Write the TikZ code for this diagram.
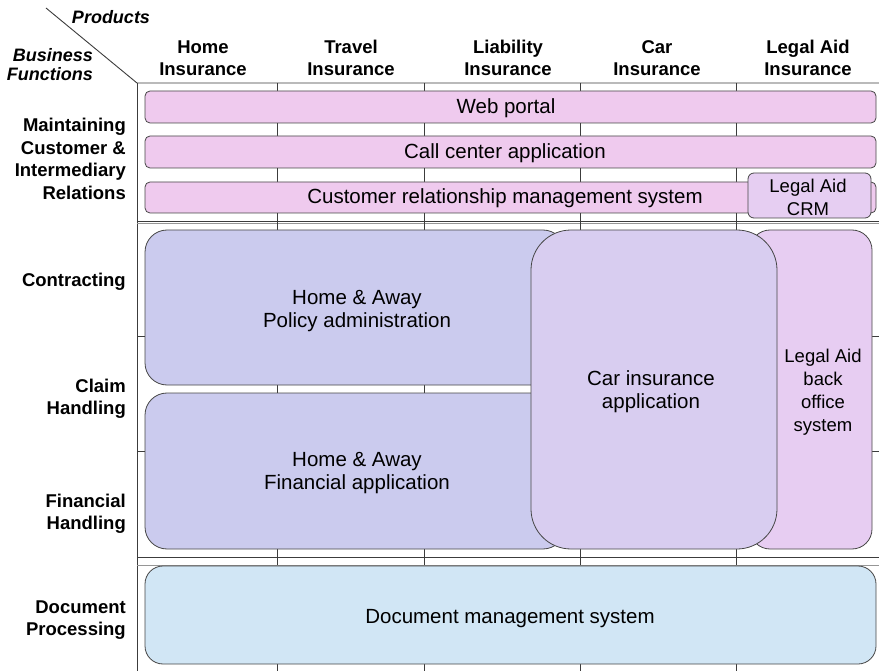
\documentclass[tikz,border=0pt]{standalone}
\usepackage{fontspec}
\setmainfont{Liberation Sans}
\definecolor{gridc}{RGB}{60,60,60}
\definecolor{gridl}{RGB}{150,150,150}
\definecolor{border}{RGB}{70,70,70}
\definecolor{pinkc}{RGB}{239,202,238}
\definecolor{lacrmc}{RGB}{230,206,242}
\definecolor{hac}{RGB}{203,203,238}
\definecolor{carc}{RGB}{216,205,240}
\definecolor{labc}{RGB}{231,205,242}
\definecolor{docc}{RGB}{209,230,245}
\begin{document}
\begin{tikzpicture}[x=1pt,y=-1pt,
  gridline/.style={draw=gridc, line width=0.9pt},
  gridlight/.style={draw=gridl, line width=0.9pt},
  tickline/.style={draw=gridc, line width=0.8pt},
  box/.style={draw=border, line width=0.8pt, inner sep=0pt, anchor=center},
  bar/.style={box, fill=pinkc, rounded corners=5pt},
  hdr/.style={font=\fontsize{18.5}{22}\selectfont\bfseries, align=center, inner sep=0pt},
  corner/.style={font=\fontsize{18}{19}\selectfont\bfseries\itshape, align=right, inner sep=0pt},
  rowlab/.style={font=\fontsize{18.5}{22.5}\selectfont\bfseries, align=right, anchor=east, inner sep=0pt},
  bigtxt/.style={font=\fontsize{20.5}{23}\selectfont, align=center, inner sep=0pt},
  smalltxt/.style={font=\fontsize{18.5}{23}\selectfont, align=center, inner sep=0pt},
]
\useasboundingbox (0,0) rectangle (879,671);

% ---- grid ----
\coordinate (dg) at (46,8);
\coordinate (gtl) at (137,83);
\coordinate (gtr) at (879,83);
\coordinate (gbl) at (137,671);
\draw[gridline] (dg) -- (gtl) -- (gtr);
\draw[gridline] (gtl) -- (gbl);
\draw[gridline] (137,221.5) -- (879,221.5);
\draw[gridlight] (137,223.5) -- (879,223.5);
\draw[gridline] (137,557) -- (879,557);
\draw[gridlight] (137,565) -- (879,565);
\draw[tickline] (137,336) -- (145,336);
\draw[tickline] (137,451) -- (145,451);
\draw[tickline] (872,336) -- (879,336);
\draw[tickline] (872,451) -- (879,451);
\foreach \x in {277,424,580,736}{
  \draw[tickline] (\x,83) -- (\x,91);
  \draw[tickline] (\x,123) -- (\x,136);
  \draw[tickline] (\x,168) -- (\x,182);
  \draw[tickline] (\x,213) -- (\x,230);
  \draw[tickline] (\x,549) -- (\x,565);
  \draw[tickline] (\x,664) -- (\x,671);
}
\foreach \x in {277,424}{
  \draw[tickline] (\x,385) -- (\x,393);
}

% ---- corner labels ----
\node[corner, anchor=center] (prod) at (111,17) {Products};
\node[corner, anchor=east] (bf) at (93,65) {Business\\Functions};

% ---- column headers ----
\node[hdr] (h1) at (203,58) {Home\\Insurance};
\node[hdr] (h2) at (351,58) {Travel\\Insurance};
\node[hdr] (h3) at (508,58) {Liability\\Insurance};
\node[hdr] (h4) at (657,58) {Car\\Insurance};
\node[hdr] (h5) at (808,58) {Legal Aid\\Insurance};

% ---- row labels ----
\node[rowlab] (r1) at (126,159) {Maintaining\\Customer \&\\Intermediary\\Relations};
\node[rowlab] (r2) at (126,282) {Contracting};
\node[rowlab] (r3) at (126,399) {Claim\\Handling};
\node[rowlab] (r4) at (126,514) {Financial\\Handling};
\node[rowlab] (r5) at (126,620) {Document\\Processing};

% ---- application boxes ----
\node[bar, minimum width=731pt, minimum height=32pt] (web) at (510.5,107) {};
\node[bigtxt] (webt) at (506,108) {Web portal};
\node[bar, minimum width=731pt, minimum height=32pt] (call) at (510.5,152) {};
\node[bigtxt] (callt) at (505,153) {Call center application};
\node[bar, minimum width=731pt, minimum height=31pt] (crm) at (510.5,197.5) {};
\node[bigtxt] (crmt) at (505,198.5) {Customer relationship management system};
\node[box, fill=lacrmc, rounded corners=6pt, minimum width=123pt, minimum height=45pt] (lacrm) at (809.5,195.5) {};
\node[smalltxt] (lacrmt) at (808,197) {Legal Aid\\CRM};

\node[box, fill=labc, rounded corners=20pt, minimum width=122pt, minimum height=319pt] (lab) at (811,389.5) {};
\node[smalltxt] (labt) at (823,392) {Legal Aid\\back\\office\\system};
\node[box, fill=hac, rounded corners=22pt, minimum width=420pt, minimum height=155pt] (hapol) at (355,307.5) {};
\node[bigtxt] (hapolt) at (357,311) {Home \& Away\\Policy administration};
\node[box, fill=hac, rounded corners=22pt, minimum width=420pt, minimum height=156pt] (hafin) at (355,471) {};
\node[bigtxt] (hafint) at (357,473.5) {Home \& Away\\Financial application};
\node[box, fill=carc, rounded corners=40pt, minimum width=246pt, minimum height=319pt] (car) at (654,389.5) {};
\node[bigtxt] (cart) at (651,391.5) {Car insurance\\application};
\node[box, fill=docc, rounded corners=18pt, minimum width=731pt, minimum height=98pt] (doc) at (510.5,615) {};
\node[bigtxt] (doct) at (510,618.5) {Document management system};
\end{tikzpicture}
\end{document}
